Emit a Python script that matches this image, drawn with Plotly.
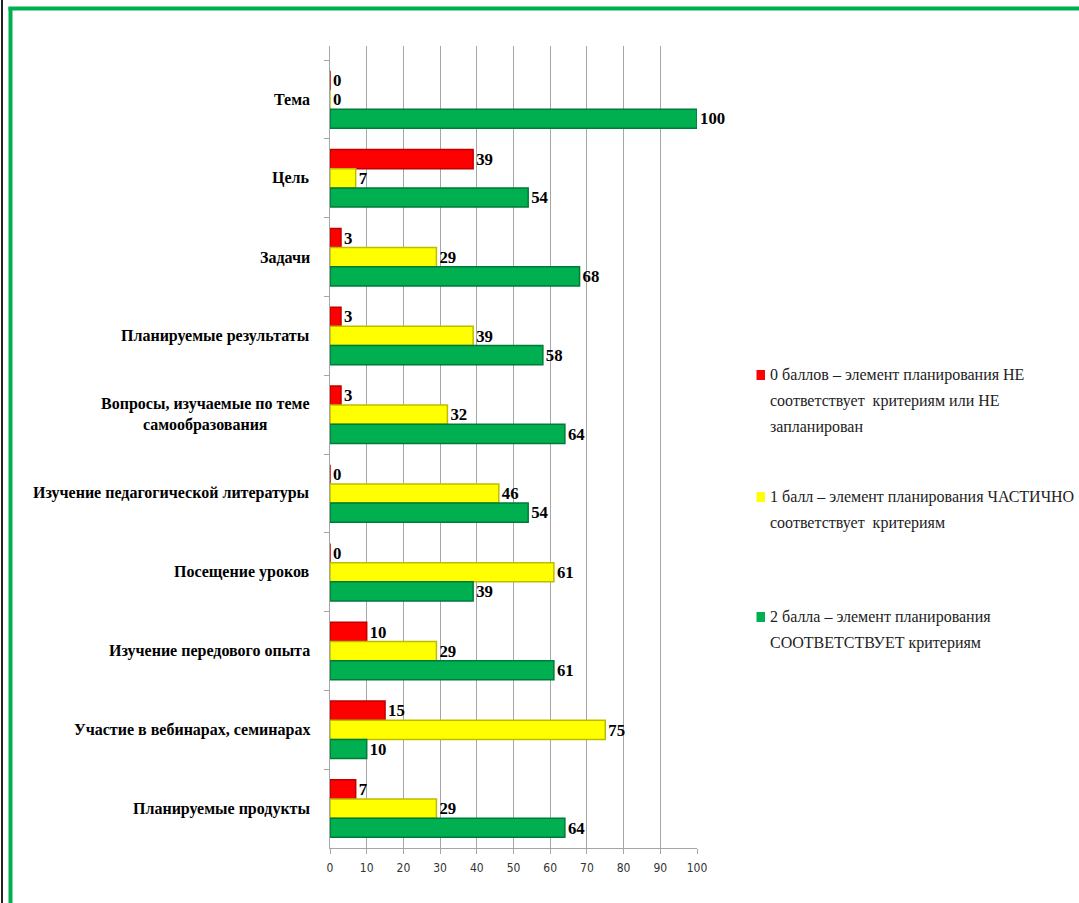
import plotly.graph_objects as go

categories = [
    "Тема",
    "Цель",
    "Задачи",
    "Планируемые результаты",
    "Вопросы, изучаемые по теме<br>самообразования",
    "Изучение педагогической литературы",
    "Посещение уроков",
    "Изучение передового опыта",
    "Участие в вебинарах, семинарах",
    "Планируемые продукты",
]
score0 = [0, 39, 3, 3, 3, 0, 0, 10, 15, 7]
score1 = [0, 7, 29, 39, 32, 46, 61, 29, 75, 29]
score2 = [100, 54, 68, 58, 64, 54, 39, 61, 10, 64]

series_names = ["0 баллов", "1 балл", "2 балла"]
legend_lines = [
    ["0 баллов – элемент планирования НЕ",
     "соответствует  критериям или НЕ",
     "запланирован"],
    ["1 балл – элемент планирования ЧАСТИЧНО",
     "соответствует  критериям"],
    ["2 балла – элемент планирования",
     "СООТВЕТСТВУЕТ критериям"],
]
x_ticks = [0, 10, 20, 30, 40, 50, 60, 70, 80, 90, 100]

colors = ["#FF0000", "#FFFF00", "#00B050"]
edges = ["#C00000", "#BDBD00", "#007A38"]
series = [score0, score1, score2]

W, H = 1079, 903
L, R = 330, 697
T, B = 46, 848

SERIF = "Liberation Serif, Times New Roman, serif"

fig = go.Figure()
for i, (vals, name) in enumerate(zip(series, series_names)):
    fig.add_trace(go.Bar(
        y=categories, x=vals, orientation="h", name=name,
        marker=dict(color=colors[i], line=dict(color=edges[i], width=1.5)),
        text=vals, textposition="outside", cliponaxis=False,
        textfont=dict(family=SERIF, size=17.5, color="black", weight="bold"),
        hoverinfo="skip", showlegend=False,
    ))

# category labels (centered multi-line like the original)
for c in categories:
    fig.add_annotation(
        xref="paper", yref="y", x=0, y=c, xshift=-18,
        xanchor="right", yanchor="middle", align="center",
        text=c, showarrow=False,
        font=dict(family=SERIF, size=16, color="black", weight="bold"),
    )


def px(xp):
    return (xp - L) / (R - L)


def py(yp):
    return 1 - (yp - T) / (B - T)


# legend drawn as text + colour squares
legend_first_y = [375, 497, 617]
line_step = 26
for i, lines in enumerate(legend_lines):
    y0 = legend_first_y[i]
    fig.add_shape(type="rect", xref="paper", yref="paper",
                  x0=px(756.5), x1=px(765), y0=py(y0 - 5), y1=py(y0 + 5),
                  fillcolor=colors[i], line=dict(width=0))
    for k, ln in enumerate(lines):
        fig.add_annotation(
            xref="paper", yref="paper", x=px(768), y=py(y0 + k * line_step),
            xanchor="left", yanchor="middle", align="left",
            text=ln, showarrow=False,
            font=dict(family=SERIF, size=16, color="#222222"),
        )

# frame: black outer line and green border
fig.add_shape(type="line", xref="paper", yref="paper",
              x0=px(2), x1=px(2), y0=py(-5), y1=py(H + 5),
              line=dict(color="#222222", width=2))
fig.add_shape(type="line", xref="paper", yref="paper",
              x0=px(10.5), x1=px(10.5), y0=py(7), y1=py(H + 5),
              line=dict(color="#00B050", width=4))
fig.add_shape(type="line", xref="paper", yref="paper",
              x0=px(8.5), x1=px(W + 5), y0=py(8.5), y1=py(8.5),
              line=dict(color="#00B050", width=4))

fig.update_layout(
    width=W, height=H,
    margin=dict(l=L, r=W - R, t=T, b=H - B, autoexpand=False),
    paper_bgcolor="white", plot_bgcolor="white",
    barmode="group", bargap=0.27, bargroupgap=0.0,
    showlegend=False,
    xaxis=dict(
        range=[0, 100], tickvals=x_ticks, ticktext=[str(v) for v in x_ticks],
        showgrid=True, gridcolor="#A6A6A6", gridwidth=1,
        zeroline=False, showline=True, linecolor="#A6A6A6", linewidth=1,
        ticks="outside", ticklen=5, tickcolor="#A6A6A6",
        ticklabelstandoff=4,
        tickfont=dict(family="Liberation Sans Narrow, DejaVu Sans Condensed, Roboto, sans-serif",
                      size=12, color="#333333"),
        fixedrange=True,
    ),
    yaxis=dict(
        type="category", categoryorder="array", categoryarray=categories,
        range=[9.5, -0.68],
        showticklabels=False, showgrid=False, zeroline=False,
        showline=True, linecolor="#A6A6A6", linewidth=1,
        ticks="outside", ticklen=5, tickcolor="#A6A6A6", tickson="boundaries",
        fixedrange=True,
    ),
)

fig.write_html(
    "out.html",
    config={"displayModeBar": False},
    post_script="document.body.style.margin='0';document.body.style.overflow='hidden';",
)
